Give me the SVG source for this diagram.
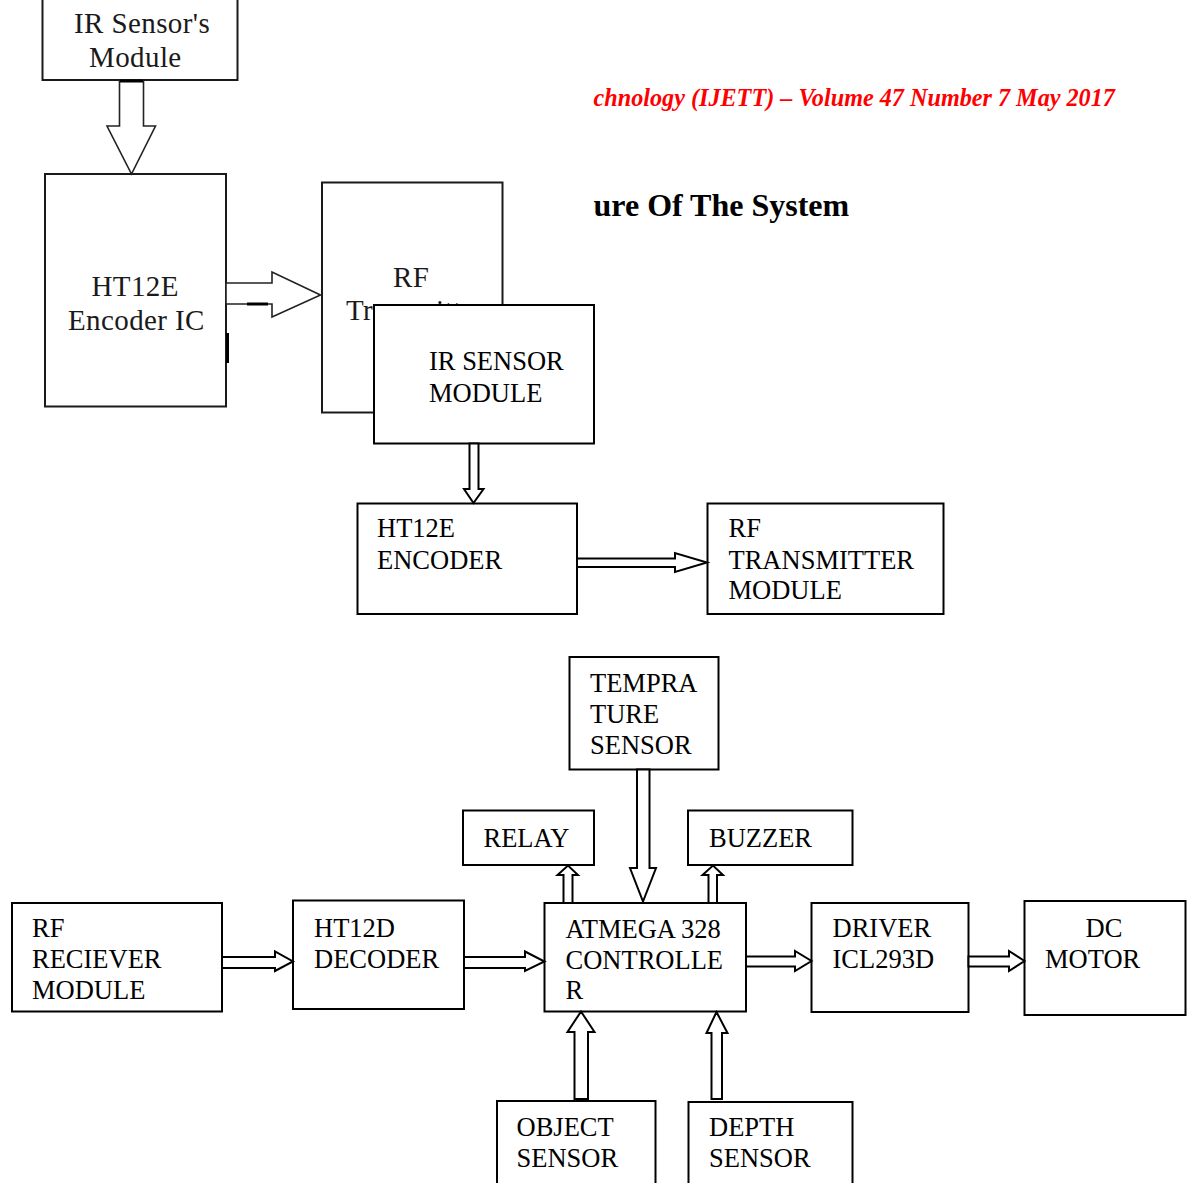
<svg xmlns="http://www.w3.org/2000/svg" width="1187" height="1183" viewBox="0 0 1187 1183">
<style>
.box{fill:#fff;stroke:#000;stroke-width:2}
.obox{fill:#fff;stroke:#1a1a1a;stroke-width:2}
.arr{fill:#fff;stroke:#000;stroke-width:2;stroke-linejoin:miter}
.oarr{fill:#fff;stroke:#222;stroke-width:1.6;stroke-linejoin:miter}
.t{font-family:"Liberation Serif","Times New Roman",serif;font-size:26.5px;fill:#000}
.ot{font-family:"Liberation Serif","Times New Roman",serif;font-size:29px;fill:#1a1a1a;letter-spacing:0.4px}
.hdr{font-family:"Liberation Serif","Times New Roman",serif;font-size:24.2px;font-weight:bold;font-style:italic;fill:#ff0000}
.ttl{font-family:"Liberation Serif","Times New Roman",serif;font-size:32px;font-weight:bold;fill:#000}
.mark{stroke:#000;stroke-width:3}
</style>
<rect width="1187" height="1183" fill="#fff"/>
<text class="hdr" x="593.5" y="106">chnology (IJETT) – Volume 47 Number 7 May 2017</text>
<text class="ttl" x="593.5" y="215.5">ure Of The System</text>

<g id="node-ir-sensors-module">
<rect class="obox" x="42.5" y="-5" width="195" height="85"/>
<text class="ot" x="74" y="33">IR Sensor's</text>
<text class="ot" x="89" y="66.5">Module</text>
</g>
<g id="node-ht12e-encoder-ic">
<rect class="obox" x="45" y="174" width="181" height="232.5"/>
<text class="ot" x="91.5" y="296">HT12E</text>
<text class="ot" x="68" y="330">Encoder IC</text>
</g>
<g id="node-rf-transmitter-old">
<rect class="obox" x="322" y="182.5" width="180.5" height="230"/>
<text class="ot" x="393" y="286.5">RF</text>
<text class="ot" x="346" y="320">Transmitter</text>
</g>
<g id="node-ir-sensor-module">
<rect class="box" x="374" y="305" width="220" height="138.5"/>
<text class="t" x="429" y="370">IR SENSOR</text>
<text class="t" x="429" y="402">MODULE</text>
</g>
<g id="node-ht12e-encoder">
<rect class="box" x="357.5" y="503.5" width="219.5" height="110.5"/>
<text class="t" x="377" y="537">HT12E</text>
<text class="t" x="377" y="569">ENCODER</text>
</g>
<g id="node-rf-transmitter-module">
<rect class="box" x="707.5" y="503.5" width="236" height="110.5"/>
<text class="t" x="728.5" y="537">RF</text>
<text class="t" x="728.5" y="568.5">TRANSMITTER</text>
<text class="t" x="728.5" y="599">MODULE</text>
</g>
<g id="node-temprature-sensor">
<rect class="box" x="569.5" y="657" width="149" height="112.5"/>
<text class="t" x="590" y="691.5">TEMPRA</text>
<text class="t" x="590" y="722.5">TURE</text>
<text class="t" x="590" y="753.5">SENSOR</text>
</g>
<g id="node-relay">
<rect class="box" x="463" y="810.5" width="131" height="54.5"/>
<text class="t" x="483.5" y="846.5">RELAY</text>
</g>
<g id="node-buzzer">
<rect class="box" x="688" y="810.5" width="164.5" height="54.5"/>
<text class="t" x="709" y="846.5">BUZZER</text>
</g>
<g id="node-rf-reciever-module">
<rect class="box" x="12" y="903" width="210" height="108.5"/>
<text class="t" x="32" y="937">RF</text>
<text class="t" x="32" y="968">RECIEVER</text>
<text class="t" x="32" y="998.5">MODULE</text>
</g>
<g id="node-ht12d-decoder">
<rect class="box" x="293" y="900.5" width="171" height="108.5"/>
<text class="t" x="314" y="936.5">HT12D</text>
<text class="t" x="314" y="968">DECODER</text>
</g>
<g id="node-atmega-328-controller">
<rect class="box" x="544.5" y="903" width="201.5" height="108.5"/>
<text class="t" x="565.5" y="937.5">ATMEGA 328</text>
<text class="t" x="565.5" y="968.5">CONTROLLE</text>
<text class="t" x="565.5" y="998.5">R</text>
</g>
<g id="node-driver-icl293d">
<rect class="box" x="811.5" y="903" width="157" height="109"/>
<text class="t" x="832.5" y="936.5">DRIVER</text>
<text class="t" x="832.5" y="968">ICL293D</text>
</g>
<g id="node-dc-motor">
<rect class="box" x="1024.5" y="901" width="161" height="114"/>
<text class="t" x="1085.5" y="936.5">DC</text>
<text class="t" x="1045" y="968">MOTOR</text>
</g>
<g id="node-object-sensor">
<rect class="box" x="497" y="1101" width="158.5" height="95"/>
<text class="t" x="516.5" y="1136">OBJECT</text>
<text class="t" x="516.5" y="1166.5">SENSOR</text>
</g>
<g id="node-depth-sensor">
<rect class="box" x="688.5" y="1102" width="164" height="95"/>
<text class="t" x="709" y="1136">DEPTH</text>
<text class="t" x="709" y="1166.5">SENSOR</text>
</g>

<g id="connectors">
<polygon class="oarr" points="119.5,80 143.5,80 143.5,126 155.5,126 131.5,174 107,126 119.5,126"/>
<polygon class="oarr" points="226,283 272,283 272,272 320.5,295 272,317 272,304 226,304"/>
<line class="mark" x1="120" y1="81" x2="143" y2="81" stroke-width="2.5"/>
<line class="mark" x1="247" y1="304" x2="268" y2="304"/>
<line class="mark" x1="227.5" y1="333" x2="227.5" y2="363"/>
<polygon class="arr" points="469.5,443.5 478.5,443.5 478.5,489 483.5,489 473.5,503 464,489 469.5,489"/>
<polygon class="arr" points="577,558.5 675,558.5 675,553 707,562.5 675,572 675,567 577,567"/>
<polygon class="arr" points="637,769.5 649.5,769.5 649.5,868 656,868 643,901.5 630,868 637,868"/>
<polygon class="arr" points="563.5,903 572.5,903 572.5,875 578,875 568,865.5 557.5,875 563.5,875"/>
<polygon class="arr" points="708.5,903 717,903 717,875 723,875 713,865.5 702.5,875 708.5,875"/>
<polygon class="arr" points="222,957 275,957 275,951.5 293,961.5 275,971 275,968 222,968"/>
<polygon class="arr" points="464,957 525,957 525,951.5 544.5,961.5 525,971 525,968 464,968"/>
<polygon class="arr" points="746,956.5 795,956.5 795,951 811.5,961 795,971 795,966.5 746,966.5"/>
<polygon class="arr" points="968.5,956.5 1009,956.5 1009,951 1024.5,961 1009,971 1009,966.5 968.5,966.5"/>
<polygon class="arr" points="574.5,1099 588,1099 588,1032 594.5,1032 581,1011.5 567.5,1032 574.5,1032"/>
<polygon class="arr" points="711.5,1099 722,1099 722,1033 727.5,1033 716.5,1012 706.5,1033 711.5,1033"/>
</g>
</svg>
